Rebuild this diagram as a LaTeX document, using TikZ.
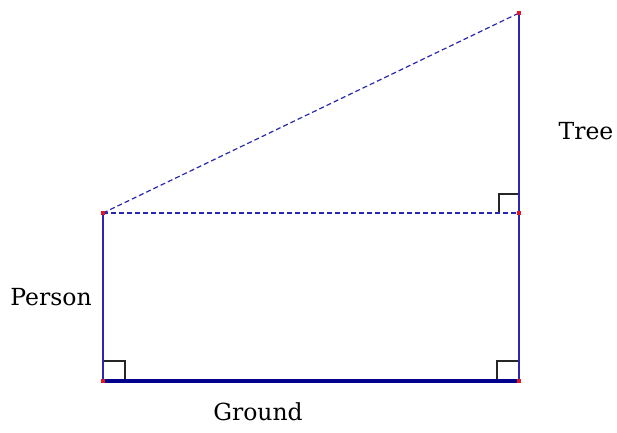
\documentclass[tikz,border=0pt]{standalone}
\usepackage{fontspec}
\setmainfont{DejaVu Serif}
\definecolor{lineblue}{RGB}{40,40,175}
\definecolor{groundblue}{RGB}{0,0,140}
\definecolor{ptred}{RGB}{230,20,40}
\begin{document}
\begin{tikzpicture}[x=1pt,y=-1pt,
  side/.style={draw=lineblue,line width=1.6pt},
  dash line/.style={draw=lineblue,line width=1.2pt,dash pattern=on 5pt off 3pt},
  groundline/.style={draw=groundblue,line width=4.5pt},
  rightangle/.style={draw=black!85,line width=1.2pt},
  pt/.style={fill=ptred,inner sep=0pt,minimum size=4pt,rectangle},
  lbl/.style={font=\fontsize{23.5}{26}\selectfont,inner sep=0pt}]
\useasboundingbox (0,0) rectangle (617,432);
\coordinate (P) at (103,213);
\coordinate (A) at (103,381);
\coordinate (B) at (519,381);
\coordinate (M) at (519,213);
\coordinate (T) at (519,13);
% right angle marks
\draw[rightangle] (103,361) -- (125,361) -- (125,381);
\draw[rightangle] (497,381) -- (497,361) -- (519,361);
\draw[rightangle] (499,213) -- (499,194) -- (519,194);
\draw[side] (P) -- (A);
\draw[side] (T) -- (B);
\draw[dash line] (P) -- (M);
\draw[dash line] (P) -- (T);
\draw[groundline] (A) -- (B);
\node[pt] (p1) at (P) {};
\node[pt] (p2) at (A) {};
\node[pt] (p3) at (B) {};
\node[pt] (p4) at (M) {};
\node[pt] (p5) at (T) {};
\node[lbl] (person) at (51,297) {Person};
\node[lbl] (ground) at (258,412) {Ground};
\node[lbl] (tree) at (586,131) {Tree};
\end{tikzpicture}
\end{document}
